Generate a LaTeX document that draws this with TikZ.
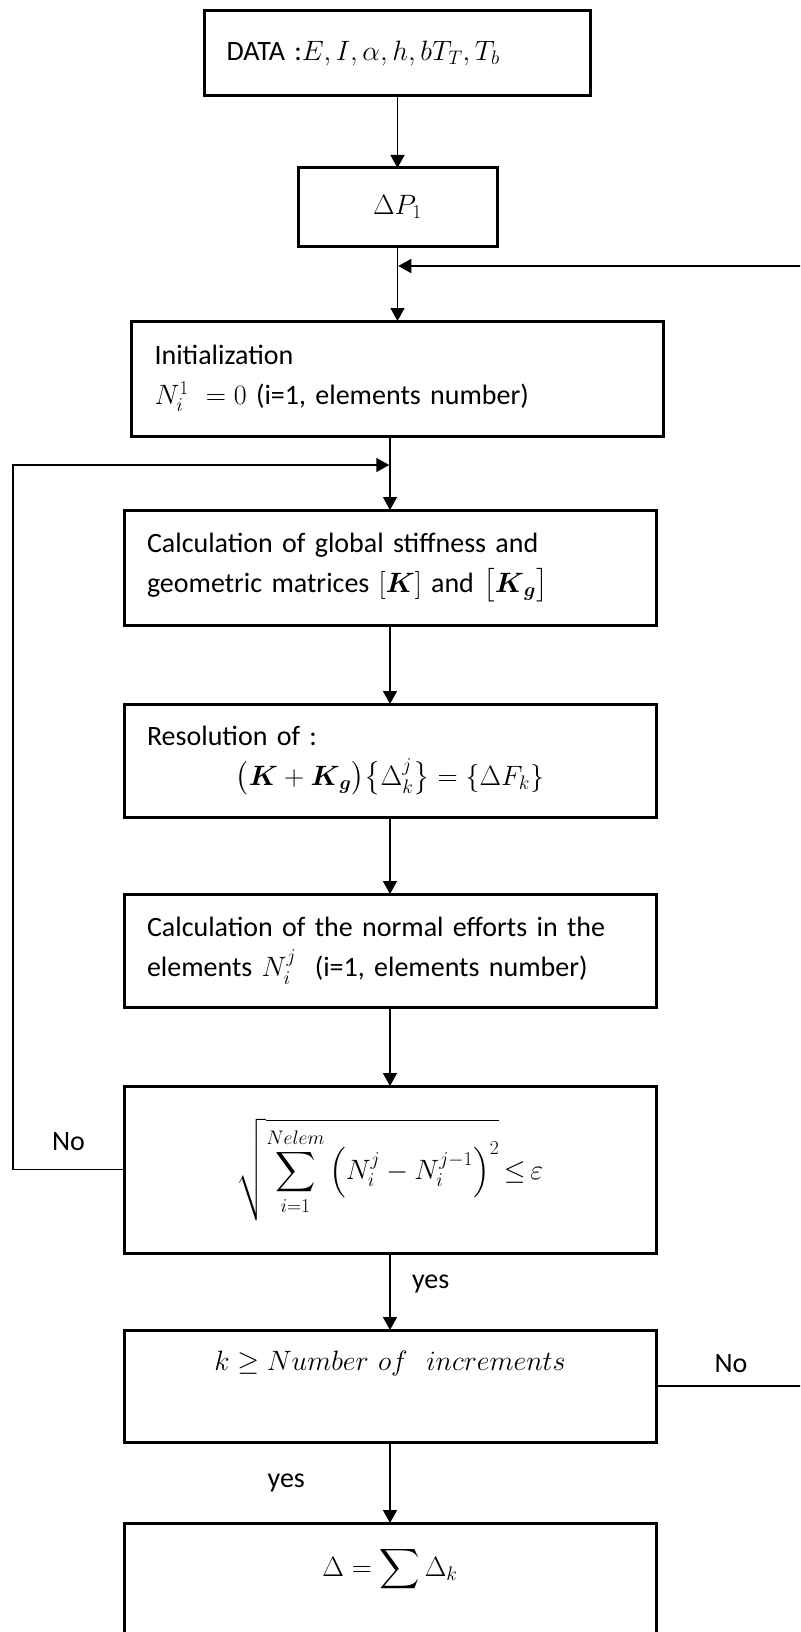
\documentclass[tikz,border=0pt]{standalone}
\usepackage{fix-cm}
\usepackage{amsmath}
\usepackage{amssymb}
\usepackage{fontspec}
\setmainfont{Carlito}
\usetikzlibrary{arrows.meta,positioning}

\begin{document}
\begin{tikzpicture}[
    x=1pt, y=-1pt,
    font=\fontsize{28}{40}\selectfont,
    base/.style={draw, line width=3pt, outer sep=0pt, minimum height=113pt},
    wide/.style={base, minimum width=532pt, text width=486pt, align=left},
    small/.style={base, minimum width=199pt, minimum height=78pt, align=center},
    arrow/.style={-{Triangle[length=13pt,width=14pt]}, line width=1.5pt}
]
\useasboundingbox (0,0) rectangle (800,1632);
\clip (0,0) rectangle (800,1632);
\node (data) [base, minimum width=386pt, minimum height=85pt, text width=342pt, align=left] at (397.5,53.5) {DATA :$E, I, \alpha, h, bT_T, T_b$};
\node (dp) [small, below=72pt of data] {$\Delta P_1$};
\node (init) [wide, minimum height=115pt, below=75pt of dp] {Initialization\\$N_i^1\ = 0$ (i=1, elements number)};
\node (calc) [wide, minimum height=115pt, below=74pt of init, xshift=-7.5pt] {Calculation of global stiffness and\\geometric matrices $[\boldsymbol{K}]$ and $\bigl[\boldsymbol{K}_{\boldsymbol{g}}\bigr]$};
\node (res) [wide, below=79pt of calc] {Resolution of :\\\makebox[486pt]{$\bigl(\boldsymbol{K}+\boldsymbol{K}_{\boldsymbol{g}}\bigr)\bigl\{\Delta_k^j\bigr\} = \{\Delta F_k\}$}};
\node (norm) [wide, below=77pt of res] {Calculation of the normal efforts in the\\elements $N_i^j$~~(i=1, elements number)};
\node (cond) [wide, minimum height=167pt, below=79pt of norm, align=center] {\mbox{$\sqrt{\displaystyle\sum_{i=1}^{Nelem}\left(N_i^j-N_i^{j-1}\right)^2}\,{\leq}\,\varepsilon$}};
\node (inc) [wide, minimum height=112pt, below=77pt of cond, align=center, text height=20pt, text depth=52pt] {\mbox{$k \geq Number\ of\ \ increments$}};
\node (fin) [wide, minimum height=117pt, below=81pt of inc, align=center, text height=25pt, text depth=36pt] {\mbox{$\Delta = \displaystyle\sum \Delta_k$}};
\coordinate (jt) at (398.25,266);
\coordinate (rt) at (806,266);
\coordinate (lf) at (13,465);
\draw [arrow] (data) -- (dp);
\draw [arrow] (dp) -- (init);
\draw [arrow] (init.south -| calc.north) -- (calc);
\draw [arrow] (calc) -- (res);
\draw [arrow] (res) -- (norm);
\draw [arrow] (norm) -- (cond);
\draw [arrow] (cond) -- node[right=18pt, pos=0.4] {yes} (inc);
\draw [arrow] (inc) -- node[left=81pt] {yes} (fin);
\draw [arrow] (cond.west) -- node[above=15pt] {No} (cond.west -| lf) -- (lf) -- ([xshift=-0.75pt]lf -| calc.north);
\draw [arrow] (inc.east) -- node[above=9pt] {No} (inc.east -| rt) -- (rt) -- (jt);
\end{tikzpicture}
\end{document}
